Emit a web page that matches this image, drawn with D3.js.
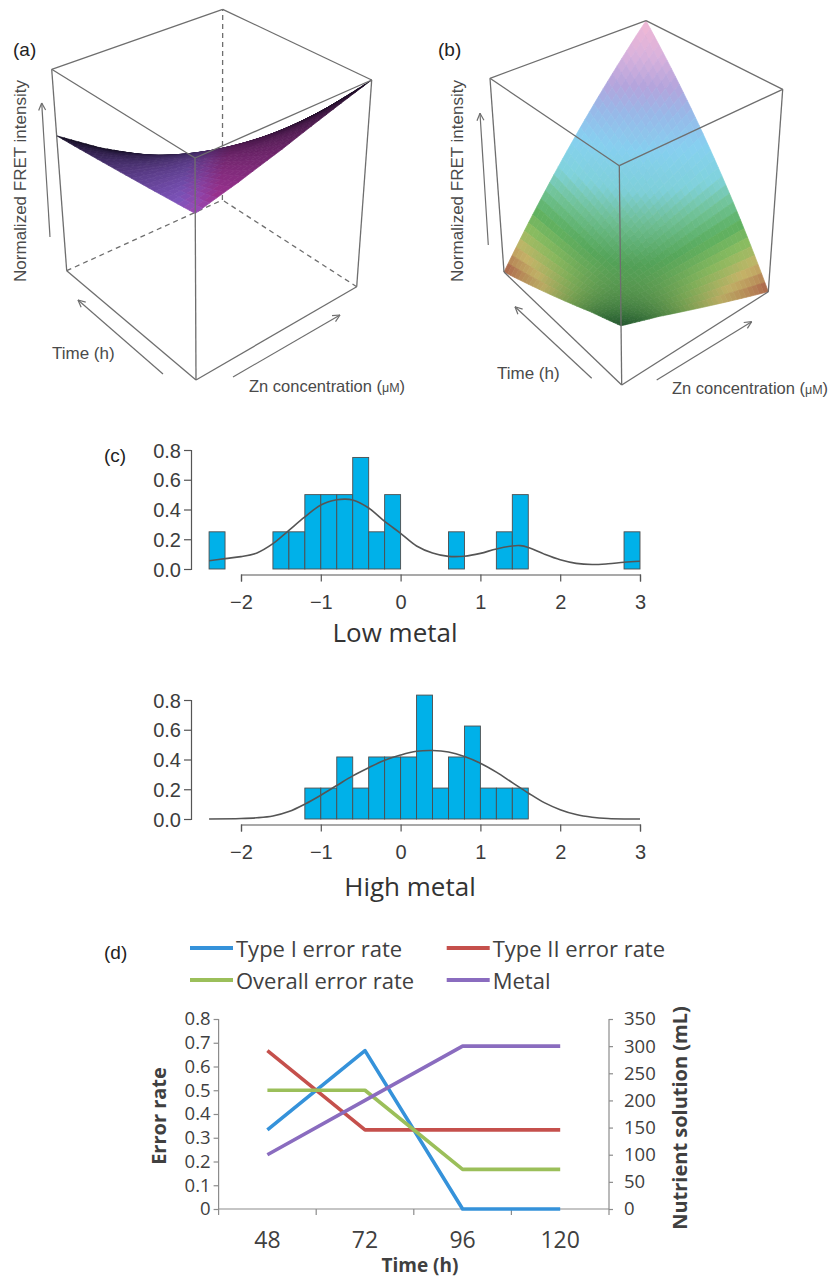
<!DOCTYPE html>
<html><head><meta charset="utf-8">
<script src="https://cdn.jsdelivr.net/npm/d3@7"></script>
<style>body{margin:0;background:#fff}svg{display:block}</style>
</head><body>
<svg id="chart" width="837" height="1281"></svg>
<script>
// ================= DATA =================
// (a) / (b) surfaces: rows = time index (front -> back-left), cols = Zn index (front -> right); values = normalized FRET
const surfaceA = [
  [0.75, 0.80, 0.86, 0.93, 1.00],
  [0.73, 0.72, 0.74, 0.76, 0.79],
  [0.71, 0.66, 0.63, 0.61, 0.59],
  [0.69, 0.59, 0.52, 0.46, 0.40],
  [0.67, 0.53, 0.41, 0.31, 0.225]
];
const surfaceB = [
  [0.27, 0.21, 0.14, 0.07, 0.00],
  [0.21, 0.22, 0.23, 0.24, 0.25],
  [0.14, 0.23, 0.32, 0.41, 0.50],
  [0.07, 0.24, 0.41, 0.58, 0.75],
  [0.00, 0.25, 0.50, 0.75, 1.00]
];

// (c) histograms (bin width 0.2)
const binWidth = 0.2;
const lowBinStart  = [-2.4, -1.6, -1.4, -1.2, -1.0, -0.8, -0.6, -0.4, -0.2, 0.6, 1.2, 1.4, 2.8];
const lowDensity   = [0.25, 0.25, 0.25, 0.5, 0.5, 0.5, 0.75, 0.25, 0.5, 0.25, 0.25, 0.5, 0.25];
const highBinStart = [-1.2, -1.0, -0.8, -0.6, -0.4, -0.2, 0.0, 0.2, 0.4, 0.6, 0.8, 1.0, 1.2, 1.4];
const highDensity  = [0.208, 0.208, 0.417, 0.208, 0.417, 0.417, 0.417, 0.833, 0.208, 0.417, 0.625, 0.208, 0.208, 0.208];
const lowCurveX  = [-2.4,-2.2,-2.0,-1.8,-1.6,-1.4,-1.2,-1.0,-0.8,-0.7,-0.6,-0.4,-0.2,0.0,0.2,0.4,0.6,0.8,1.0,1.2,1.4,1.5,1.6,1.8,2.0,2.2,2.4,2.6,2.8,3.0];
const lowCurveY  = [0.055,0.07,0.083,0.108,0.17,0.26,0.35,0.43,0.465,0.47,0.464,0.41,0.32,0.24,0.155,0.108,0.085,0.086,0.105,0.135,0.155,0.157,0.145,0.10,0.062,0.038,0.03,0.035,0.045,0.052];
const highCurveX = [-2.4,-2.0,-1.8,-1.6,-1.4,-1.2,-1.0,-0.8,-0.6,-0.4,-0.2,0.0,0.2,0.4,0.6,0.8,1.0,1.2,1.4,1.6,1.8,2.0,2.2,2.4,2.6,2.8,3.0];
const highCurveY = [0.0,0.003,0.008,0.02,0.05,0.10,0.16,0.225,0.29,0.345,0.395,0.43,0.455,0.46,0.45,0.42,0.375,0.315,0.245,0.175,0.11,0.063,0.03,0.012,0.003,0.0,0.0];
const histXTicks = [-2, -1, 0, 1, 2, 3];
const histYTicks = [0, 0.2, 0.4, 0.6, 0.8];

// (d) error rates
const timeCats = ["48", "72", "96", "120"];
const typeI   = [0.333, 0.667, 0, 0];
const typeII  = [0.667, 0.333, 0.333, 0.333];
const overall = [0.5, 0.5, 0.167, 0.167];
const metal   = [100, 200, 300, 300];
const seriesNames  = ["Type I error rate", "Type II error rate", "Overall error rate", "Metal"];
const seriesColors = ["#3592da", "#c5504c", "#9bbf5a", "#8a6cbf"];
const leftTicks  = [0, 0.1, 0.2, 0.3, 0.4, 0.5, 0.6, 0.7, 0.8];
const rightTicks = [0, 50, 100, 150, 200, 250, 300, 350];

// ================= DRAW =================
const svg = d3.select("#chart");
const BOX = "#6e6e6e";
const ARIAL = "'Liberation Sans', Arial, Helvetica, sans-serif";
const OPEN = "'Open Sans', 'Noto Sans', sans-serif";

// trilinear mapping of the unit cube (t, s, z) onto the projected box corners
function makeBox(c) {
  return function (t, s, z) {
    let x = 0, y = 0;
    for (const a of [0, 1]) for (const b of [0, 1]) for (const g of [0, 1]) {
      const w = (a ? t : 1 - t) * (b ? s : 1 - s) * (g ? z : 1 - z);
      const p = c["" + a + b + g];
      x += w * p[0]; y += w * p[1];
    }
    return [x, y];
  };
}

function drawSurface(g, grid, proj, colorFn, sub) {
  const n = grid.length - 1;
  const u = d3.scaleLinear().domain([0, n]).range([0, 1]);
  const quads = [];
  const zAt = (i, j, fi, fj) =>
    grid[i][j] * (1 - fi) * (1 - fj) + grid[i + 1][j] * fi * (1 - fj) +
    grid[i][j + 1] * (1 - fi) * fj + grid[i + 1][j + 1] * fi * fj;
  for (let i = 0; i < n; i++) for (let j = 0; j < n; j++)
    for (let a = 0; a < sub; a++) for (let b = 0; b < sub; b++) {
      const f = [[a, b], [a + 1, b], [a + 1, b + 1], [a, b + 1]].map(([p, q]) => [p / sub, q / sub]);
      const pts = f.map(([fi, fj]) => proj(u(i + fi), u(j + fj), zAt(i, j, fi, fj)));
      const ci = (a + 0.5) / sub, cj = (b + 0.5) / sub;
      const t = u(i + ci), s = u(j + cj), z = zAt(i, j, ci, cj);
      quads.push({ pts, t, s, z, depth: t + s });
    }
  quads.sort((p, q) => q.depth - p.depth);
  quads.forEach(d => d.col = colorFn(d));
  g.selectAll("path").data(quads).join("path")
    .attr("d", d => "M" + d.pts.map(p => p[0].toFixed(2) + "," + p[1].toFixed(2)).join("L") + "Z")
    .attr("fill", d => d.col).attr("stroke", d => d.col).attr("stroke-width", 0.7)
    .attr("stroke-linejoin", "round");
}

function boxEdges(g, proj, edges, dashed) {
  g.selectAll(null).data(edges).join("line")
    .attr("x1", d => proj(...d[0])[0]).attr("y1", d => proj(...d[0])[1])
    .attr("x2", d => proj(...d[1])[0]).attr("y2", d => proj(...d[1])[1])
    .attr("stroke", BOX).attr("stroke-width", 1.3)
    .attr("stroke-dasharray", dashed ? "5,4" : null);
}

function arrow(g, p0, p1) {
  g.append("line").attr("x1", p0[0]).attr("y1", p0[1]).attr("x2", p1[0]).attr("y2", p1[1])
    .attr("stroke", BOX).attr("stroke-width", 1.2);
  const ang = Math.atan2(p1[1] - p0[1], p1[0] - p0[0]);
  const L = 8;
  [-0.45, 0.45].forEach(da => {
    const a = ang + Math.PI + da;
    g.append("line").attr("x1", p1[0]).attr("y1", p1[1])
      .attr("x2", p1[0] + L * Math.cos(a)).attr("y2", p1[1] + L * Math.sin(a))
      .attr("stroke", BOX).attr("stroke-width", 1.2);
  });
}

const visibleEdges = [
  [[1,0,1],[1,1,1]], [[1,1,1],[0,1,1]], [[1,0,1],[0,0,1]], [[0,0,1],[0,1,1]],
  [[0,0,0],[0,0,1]], [[1,0,0],[1,0,1]], [[0,1,0],[0,1,1]],
  [[1,0,0],[0,0,0]], [[0,0,0],[0,1,0]]
];
const hiddenEdges = [[[1,1,0],[1,1,1]], [[1,0,0],[1,1,0]], [[0,1,0],[1,1,0]]];

function axisLabels3D(g, fretX, time, zn) {
  g.append("text").attr("transform", `translate(${fretX},181) rotate(-90)`)
    .attr("text-anchor", "middle").attr("dominant-baseline", "central")
    .attr("font-family", ARIAL).attr("font-size", 17).attr("fill", "#4a4a4a")
    .text("Normalized FRET intensity");
  g.append("text").attr("x", time[0]).attr("y", time[1])
    .attr("font-family", ARIAL).attr("font-size", 17).attr("fill", "#4a4a4a").text("Time (h)");
  const t = g.append("text").attr("x", zn[0]).attr("y", zn[1])
    .attr("font-family", ARIAL).attr("font-size", 16.5).attr("fill", "#4a4a4a");
  t.append("tspan").text("Zn concentration (");
  t.append("tspan").attr("font-size", 12.5).text("μM");
  t.append("tspan").text(")");
}

// ----- panel (a) -----
{
  const g = svg.append("g");
  const proj = makeBox({
    "000": [196, 380], "001": [195, 158],
    "100": [66.7, 270.7], "101": [51.7, 69.3],
    "010": [356.7, 286.7], "011": [371.7, 80],
    "110": [222.4, 200], "111": [222.7, 9.3]
  });
  boxEdges(g, proj, hiddenEdges, true);
  const hue = d3.scaleLinear().domain([-0.12, 0.12]).range(["#8a5ccd", "#a8369c"]).clamp(true);
  drawSurface(g.append("g"), surfaceA, proj, d => {
    const L = 1 - Math.max(d.t, d.s);
    return d3.interpolateRgb("#0c0818", hue(d.s - d.t))(Math.pow(L, 0.75));
  }, 6);
  boxEdges(g, proj, visibleEdges, false);
  arrow(g, [50, 237], [41.7, 103]);
  arrow(g, [163, 374], [78, 300]);
  arrow(g, [233, 377], [340, 315]);
  axisLabels3D(g, 20, [52, 359], [249, 392]);
  g.append("text").attr("x", 13).attr("y", 56).attr("font-family", ARIAL).attr("font-size", 19)
    .attr("fill", "#222").text("(a)");
}

// ----- panel (b) -----
{
  const g = svg.append("g");
  const proj = makeBox({
    "000": [621.7, 385], "001": [619.3, 165.7],
    "100": [504, 272], "101": [490, 78.3],
    "010": [768.3, 291.7], "011": [782.7, 89.3],
    "110": [646, 201], "111": [646, 20.7]
  });
  boxEdges(g, proj, hiddenEdges, true);
  const cmap = d3.scaleLinear()
    .domain([0, 0.05, 0.10, 0.17, 0.24, 0.32, 0.40, 0.52, 0.64, 0.74, 0.86, 1])
    .range(["#a85a48", "#b88a58", "#c6b468", "#8cbc60", "#5cb060", "#72c49a", "#80d2dc", "#86d0f0", "#98b8e8", "#b4a4dc", "#dab2dc", "#f2b8d4"]);
  drawSurface(g.append("g"), surfaceB, proj, d => {
    const f = 0.7 * Math.pow((1 - d.t) * (1 - d.s), 2);
    return d3.interpolateRgb(cmap(d.z), "#0a2a10")(f);
  }, 8);
  boxEdges(g, proj, visibleEdges, false);
  arrow(g, [488.3, 245], [480, 113.3]);
  arrow(g, [591.7, 378.3], [515, 306.7]);
  arrow(g, [656.7, 380], [751.7, 321.7]);
  axisLabels3D(g, 457, [497, 379], [672, 394]);
  g.append("text").attr("x", 438).attr("y", 56).attr("font-family", ARIAL).attr("font-size", 19)
    .attr("fill", "#222").text("(b)");
}

// ----- panel (c) -----
function drawHist(binStart, dens, cx, cy, yRange, title, titleX, titleY) {
  const g = svg.append("g");
  const x = d3.scaleLinear().domain([-2, 3]).range([241, 640]);
  const y = d3.scaleLinear().domain([0, 0.8]).range(yRange);
  g.selectAll("rect").data(binStart).join("rect")
    .attr("x", d => x(d)).attr("width", d => x(d + binWidth) - x(d))
    .attr("y", (d, i) => y(dens[i])).attr("height", (d, i) => y(0) - y(dens[i]))
    .attr("fill", "#00b1e9").attr("stroke", "#4d4d4d").attr("stroke-width", 0.9);
  const line = d3.line().x((d, i) => x(cx[i])).y(d => y(d)).curve(d3.curveCatmullRom);
  g.append("path").attr("d", line(cy)).attr("fill", "none")
    .attr("stroke", "#555").attr("stroke-width", 1.6);
  const xa = g.append("g").attr("transform", `translate(0,${y(0) + 5.5})`)
    .call(d3.axisBottom(x).tickValues(histXTicks).tickSize(7).tickPadding(13)
      .tickFormat(d => d < 0 ? "\u2212" + Math.abs(d) : String(d)));
  const ya = g.append("g").attr("transform", "translate(191,0)")
    .call(d3.axisLeft(y).tickValues(histYTicks).tickSize(7).tickPadding(3).tickFormat(d3.format(".1f")));
  [xa, ya].forEach(a => {
    a.selectAll("path,line").attr("stroke", "#555").attr("stroke-width", 1.2);
    a.selectAll("text").attr("font-family", ARIAL).attr("font-size", 20).attr("fill", "#3c3c3c");
  });
  ya.selectAll("text").attr("dy", "0.36em");
  g.append("text").attr("x", titleX).attr("y", titleY).attr("text-anchor", "middle")
    .attr("dominant-baseline", "central").attr("font-family", OPEN).attr("font-size", 26)
    .attr("fill", "#333").text(title);
}
drawHist(lowBinStart, lowDensity, lowCurveX, lowCurveY, [569, 450], "Low metal", 395, 632);
drawHist(highBinStart, highDensity, highCurveX, highCurveY, [819, 700], "High metal", 410, 886);
svg.append("text").attr("x", 104).attr("y", 462).attr("font-family", ARIAL).attr("font-size", 19)
  .attr("fill", "#222").text("(c)");

// ----- panel (d) -----
{
  const g = svg.append("g");
  const x = d3.scaleBand().domain(timeCats).range([218.6, 609]);
  const yL = d3.scaleLinear().domain([0, 0.8]).range([1209, 1019]);
  const yR = d3.scaleLinear().domain([0, 350]).range([1209, 1019]);
  const AX = "#8c8c8c";

  const la = g.append("g").attr("transform", `translate(${x.range()[0]},0)`)
    .call(d3.axisLeft(yL).tickValues(leftTicks).tickSize(5).tickPadding(3)
      .tickFormat(d => d === 0 ? "0" : d3.format(".1f")(d)));
  const ra = g.append("g").attr("transform", `translate(${x.range()[1]},0)`)
    .call(d3.axisRight(yR).tickValues(rightTicks).tickSize(4).tickPadding(11));
  [la, ra].forEach(a => {
    a.selectAll("path,line").attr("stroke", AX).attr("stroke-width", 1.2);
    a.selectAll("text").attr("font-family", OPEN).attr("font-size", 18.5).attr("fill", "#404040");
    a.select(".domain").attr("d", a === la ? `M0,${yL(0.8)}V${yL(0)}` : `M0,${yR(350)}V${yR(0)}`);
  });
  // category axis
  g.append("line").attr("x1", x.range()[0]).attr("x2", x.range()[1])
    .attr("y1", yL(0)).attr("y2", yL(0)).attr("stroke", AX).attr("stroke-width", 1.2);
  const bounds = timeCats.map(d => x(d)).concat([x.range()[1]]);
  g.selectAll(null).data(bounds).join("line")
    .attr("x1", d => d).attr("x2", d => d).attr("y1", yL(0)).attr("y2", yL(0) + 6)
    .attr("stroke", AX).attr("stroke-width", 1.2);
  g.selectAll(null).data(timeCats).join("text")
    .attr("x", d => x(d) + x.bandwidth() / 2).attr("y", 1239)
    .attr("text-anchor", "middle").attr("dominant-baseline", "central")
    .attr("font-family", OPEN).attr("font-size", 23).attr("fill", "#404040").text(d => d);

  const cx = d => x(d) + x.bandwidth() / 2;
  const series = [
    { v: typeI, y: yL }, { v: typeII, y: yL }, { v: overall, y: yL }, { v: metal, y: yR }
  ];
  series.forEach((s, k) => {
    const line = d3.line().x((d, i) => cx(timeCats[i])).y(d => s.y(d));
    g.append("path").attr("d", line(s.v)).attr("fill", "none")
      .attr("stroke", seriesColors[k]).attr("stroke-width", 3.6)
      .attr("stroke-linejoin", "round");
  });

  // legend
  const legPos = [[190, 948], [446.7, 948], [190, 980], [446.7, 980]];
  seriesNames.forEach((name, k) => {
    const [lx, ly] = legPos[k];
    g.append("line").attr("x1", lx).attr("x2", lx + 43).attr("y1", ly).attr("y2", ly)
      .attr("stroke", seriesColors[k]).attr("stroke-width", 4);
    g.append("text").attr("x", lx + 46).attr("y", ly).attr("dominant-baseline", "central")
      .attr("font-family", OPEN).attr("font-size", 22).attr("fill", "#404040").text(name);
  });

  g.append("text").attr("transform", "translate(158,1116) rotate(-90)")
    .attr("text-anchor", "middle").attr("dominant-baseline", "central")
    .attr("font-family", OPEN).attr("font-weight", "bold").attr("font-size", 20)
    .attr("fill", "#404040").text("Error rate");
  g.append("text").attr("transform", "translate(679,1118) rotate(-90)")
    .attr("text-anchor", "middle").attr("dominant-baseline", "central")
    .attr("font-family", OPEN).attr("font-weight", "bold").attr("font-size", 20)
    .attr("fill", "#404040").text("Nutrient solution (mL)");
  g.append("text").attr("x", 420).attr("y", 1265).attr("text-anchor", "middle")
    .attr("dominant-baseline", "central")
    .attr("font-family", OPEN).attr("font-weight", "bold").attr("font-size", 19)
    .attr("fill", "#404040").text("Time (h)");
  g.append("text").attr("x", 104).attr("y", 959).attr("font-family", ARIAL).attr("font-size", 19)
    .attr("fill", "#222").text("(d)");
}
</script>
</body></html>
